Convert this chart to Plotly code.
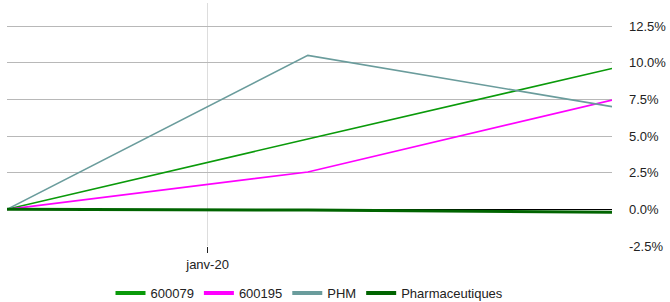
import plotly.graph_objects as go

dates = ["2019-11-02", "2020-01-31", "2020-05-01"]
s_600079 = [0.0, 4.8, 9.6]
s_600195 = [0.0, 2.55, 7.45]
s_phm = [0.0, 10.5, 7.0]
s_pharma = [0.0, -0.05, -0.2]

series = [
    ("600079", s_600079, "#0a9a0a", 1.6),
    ("600195", s_600195, "#ff00ff", 1.6),
    ("PHM", s_phm, "#6a9c9c", 1.6),
    ("Pharmaceutiques", s_pharma, "#006400", 3),
]

y_ticks = [-2.5, 0.0, 2.5, 5.0, 7.5, 10.0, 12.5]
y_labels = [f"{v:.1f}%" for v in y_ticks]
x_tickvals = ["2020-01-01"]
x_ticktext = ["janv-20"]

fig = go.Figure()
for name, vals, color, w in series:
    fig.add_trace(go.Scatter(x=dates, y=vals, mode="lines", name=name,
                             line=dict(color=color, width=w), showlegend=False))
for name, vals, color, w in series:
    fig.add_trace(go.Scatter(x=[None], y=[None], mode="lines", name=name,
                             line=dict(color=color, width=4)))

fig.update_layout(
    width=670, height=302,
    margin=dict(l=7, r=58, t=3, b=56),
    paper_bgcolor="white", plot_bgcolor="white",
    font=dict(family="Liberation Sans, Arial, sans-serif", size=13, color="#222"),
    showlegend=True,
    legend=dict(orientation="h", x=0.5, xanchor="center",
                yref="container", y=0.03, yanchor="middle",
                font=dict(size=13)),
    xaxis=dict(type="date", range=[dates[0], dates[-1]], automargin=False,
               tickvals=x_tickvals, ticktext=x_ticktext,
               showgrid=True, gridcolor="#dddddd", gridwidth=1,
               ticks="outside", ticklen=6, tickcolor="#222",
               zeroline=False, showline=False),
    yaxis=dict(side="right", range=[-2.5, 14.07], automargin=False,
               tickvals=y_ticks, ticktext=y_labels,
               showgrid=True, gridcolor="#b8b8b8", gridwidth=1,
               zeroline=True, zerolinecolor="#000000", zerolinewidth=1,
               ticks="", ticklabelstandoff=16, showline=False),
)

fig.write_html("out.html", config={"displayModeBar": False},
               post_script="document.body.style.margin='0';document.body.style.overflow='hidden';")
